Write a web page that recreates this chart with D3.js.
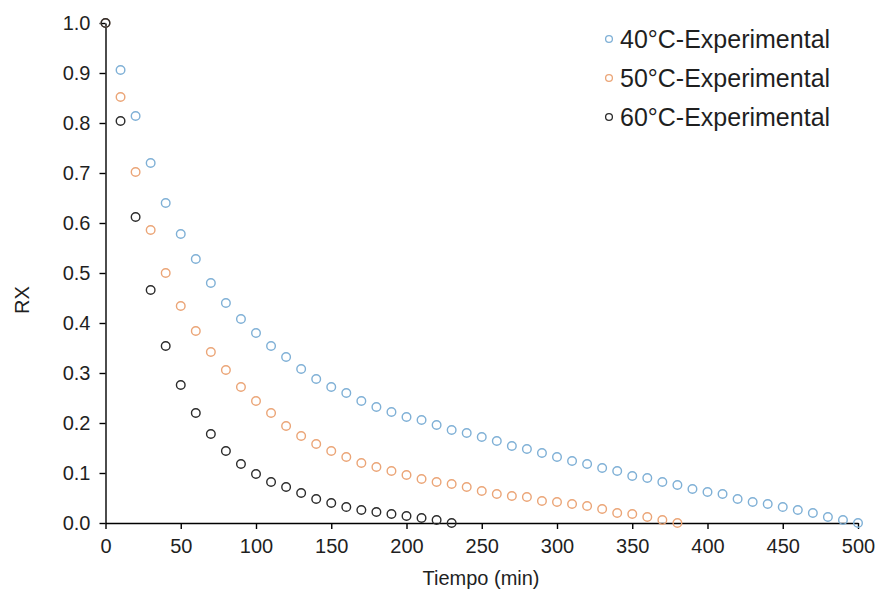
<!DOCTYPE html>
<html><head><meta charset="utf-8">
<script src="https://cdn.jsdelivr.net/npm/d3@7"></script>
<style>
html,body{margin:0;padding:0;background:#fff;}
text{font-family:"Liberation Sans",Arial,sans-serif;fill:#1f1f1f;}
</style></head>
<body><svg id="chart" width="884" height="604"></svg>
<script>
const seriesNames = ["40°C-Experimental","50°C-Experimental","60°C-Experimental"];
const seriesColors = ["#7fb0d6","#eba577","#2b2b2b"];
const time40 = [0,10,20,30,40,50,60,70,80,90,100,110,120,130,140,150,160,170,180,190,200,210,220,230,240,250,260,270,280,290,300,310,320,330,340,350,360,370,380,390,400,410,420,430,440,450,460,470,480,490,500];
const rx40 = [1.0,0.906,0.814,0.72,0.64,0.578,0.528,0.48,0.44,0.408,0.38,0.354,0.332,0.308,0.288,0.272,0.26,0.244,0.232,0.222,0.212,0.206,0.196,0.186,0.18,0.172,0.164,0.154,0.148,0.14,0.132,0.124,0.118,0.11,0.104,0.094,0.09,0.082,0.076,0.068,0.062,0.058,0.048,0.042,0.038,0.032,0.026,0.02,0.012,0.006,0.0];
const time50 = [0,10,20,30,40,50,60,70,80,90,100,110,120,130,140,150,160,170,180,190,200,210,220,230,240,250,260,270,280,290,300,310,320,330,340,350,360,370,380];
const rx50 = [1.0,0.852,0.702,0.586,0.5,0.434,0.384,0.342,0.306,0.272,0.244,0.22,0.194,0.174,0.158,0.144,0.132,0.12,0.112,0.104,0.096,0.088,0.082,0.078,0.072,0.064,0.058,0.054,0.052,0.044,0.042,0.038,0.034,0.028,0.02,0.018,0.012,0.006,0.0];
const time60 = [0,10,20,30,40,50,60,70,80,90,100,110,120,130,140,150,160,170,180,190,200,210,220,230];
const rx60 = [1.0,0.804,0.612,0.466,0.354,0.276,0.22,0.178,0.144,0.118,0.098,0.082,0.072,0.06,0.048,0.04,0.032,0.026,0.022,0.018,0.014,0.01,0.006,0.0];
const xTicks = [0,50,100,150,200,250,300,350,400,450,500];
const yTicks = [0,0.1,0.2,0.3,0.4,0.5,0.6,0.7,0.8,0.9,1.0];
const xTitle = "Tiempo (min)";
const yTitle = "RX";

const series = [
  {name: seriesNames[0], color: seriesColors[0], t: time40, v: rx40},
  {name: seriesNames[1], color: seriesColors[1], t: time50, v: rx50},
  {name: seriesNames[2], color: seriesColors[2], t: time60, v: rx60}
];

const svg = d3.select("#chart");
const x = d3.scaleLinear().domain([0,500]).range([105.5,858]);
const y = d3.scaleLinear().domain([0,1]).range([523,23]);

const xAxis = svg.append("g").attr("transform","translate(0,523)")
  .call(d3.axisBottom(x).tickValues(xTicks).tickSize(6).tickSizeOuter(0).tickPadding(6).tickFormat(d3.format("d")));
const yAxis = svg.append("g").attr("transform","translate(105.5,0)")
  .call(d3.axisLeft(y).tickValues(yTicks).tickSize(6).tickSizeOuter(0).tickPadding(9).tickFormat(d3.format(".1f")));
[xAxis,yAxis].forEach(g=>{
  g.selectAll("path.domain").attr("stroke","#000").attr("stroke-width",1.4);
  g.selectAll(".tick line").attr("stroke","#000").attr("stroke-width",1.4);
  g.selectAll(".tick text").style("font-size","20px").style("font-family","'Liberation Sans',Arial,sans-serif").attr("fill","#1f1f1f");
});
xAxis.selectAll(".tick text").attr("dy","0.9em");

svg.append("text").attr("x",481).attr("y",585).attr("text-anchor","middle")
  .style("font-size","20px").text(xTitle);
svg.append("text").attr("transform","translate(29,300) rotate(-90)").attr("text-anchor","middle")
  .style("font-size","20px").text(yTitle);

series.forEach(s=>{
  svg.append("g").selectAll("circle").data(s.t.map((t,i)=>({t, v:s.v[i]}))).join("circle")
    .attr("cx",d=>x(d.t)).attr("cy",d=>y(d.v)).attr("r",4.3)
    .attr("fill","none").attr("stroke",s.color).attr("stroke-width",1.4);
});

const legend = svg.append("g");
series.forEach((s,i)=>{
  const ly = 39 + i*39;
  legend.append("circle").attr("cx",609).attr("cy",ly).attr("r",3.4)
    .attr("fill","none").attr("stroke",s.color).attr("stroke-width",1.3);
  legend.append("text").attr("x",620).attr("y",ly).attr("dy","0.35em")
    .style("font-size","25px").text(s.name);
});
</script></body></html>
